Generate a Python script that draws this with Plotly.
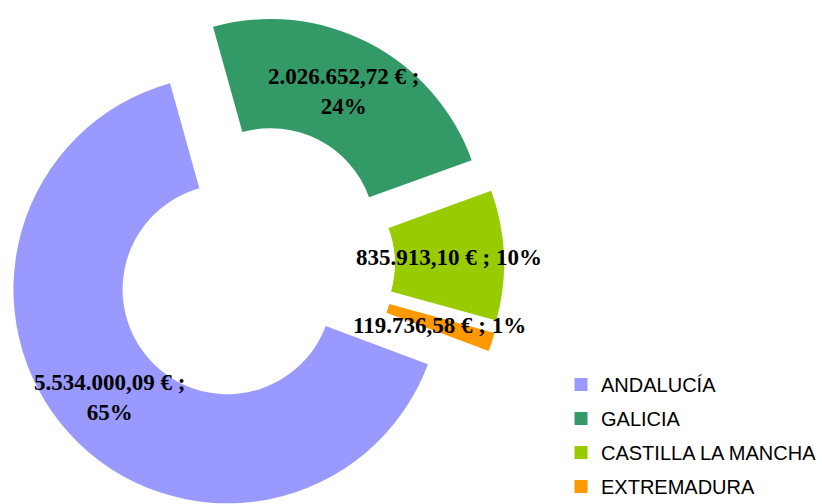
import math
import plotly.graph_objects as go

# Funding by region (euros)
regions = ["ANDALUCÍA", "GALICIA", "CASTILLA LA MANCHA", "EXTREMADURA"]
amounts = [5534000.09, 2026652.72, 835913.10, 119736.58]
colors = ["#9999FF", "#339966", "#99CC00", "#FF9900"]

W, H = 822, 504
CX, CY = 254, 265      # doughnut centre before exploding (px)
R_OUT = 214            # outer radius (px)
HOLE = 0.49            # inner radius as a fraction of the outer one
EXPLODE = 36           # how far each segment is pushed outwards (px)
ROTATION = 110.5       # clockwise start angle of the first segment (deg)

LABEL_FONT = dict(family="Liberation Serif, Times New Roman, serif", size=23,
                  color="#000000", weight="bold")
LEGEND_FONT = dict(family="Liberation Sans, Arial, sans-serif", size=20, color="#000000")


def euro(v):
    s = f"{v:,.2f}".replace(",", "X").replace(".", ",").replace("X", ".")
    return s + " €"


total = sum(amounts)
shares = [a / total for a in amounts]
r_mid = R_OUT * (1 + HOLE) / 2

fig = go.Figure()

# One pie per segment so each can be exploded along its own bisector;
# the other segments of that pie are left transparent.
angle = ROTATION
for i, (amount, share) in enumerate(zip(amounts, shares)):
    span = share * 360
    mid = math.radians(angle + span / 2)
    angle += span
    ux, uy = math.sin(mid), -math.cos(mid)
    cx = CX + EXPLODE * ux
    cy = CY + EXPLODE * uy
    seg_colors = [c if j == i else "rgba(0,0,0,0)" for j, c in enumerate(colors)]
    fig.add_trace(go.Pie(
        labels=regions, values=amounts, sort=False,
        direction="clockwise", rotation=ROTATION, hole=HOLE,
        marker=dict(colors=seg_colors, line=dict(width=0)),
        textinfo="none", hoverinfo="skip", showlegend=False,
        domain=dict(x=[(cx - R_OUT) / W, (cx + R_OUT) / W],
                    y=[max(0, 1 - (cy + R_OUT) / H), min(1, 1 - (cy - R_OUT) / H)]),
    ))
    sep = "<br>" if share >= 0.2 else " "
    fig.add_annotation(
        x=(cx + r_mid * ux) / W, y=1 - (cy + r_mid * uy) / H,
        xref="paper", yref="paper", showarrow=False,
        xanchor="center", yanchor="middle",
        text=f"{euro(amount)} ;{sep}{round(share * 100)}%",
        font=LABEL_FONT,
    )

# Legend entries
for name, c in zip(regions, colors):
    fig.add_trace(go.Scatter(
        x=[None], y=[None], mode="markers", name=name, legendgroup=name,
        marker=dict(symbol="square", size=13, color=c, line=dict(width=0)),
        hoverinfo="skip",
    ))

fig.update_layout(
    width=W, height=H,
    margin=dict(l=0, r=0, t=0, b=0, autoexpand=False),
    paper_bgcolor="white", plot_bgcolor="white",
    xaxis=dict(visible=False), yaxis=dict(visible=False),
    showlegend=True,
    legend=dict(x=561 / W, y=1 - 365 / H, xanchor="left", yanchor="top",
                font=LEGEND_FONT, tracegroupgap=5, bgcolor="rgba(0,0,0,0)",
                borderwidth=0),
)

fig.write_html("out.html")
